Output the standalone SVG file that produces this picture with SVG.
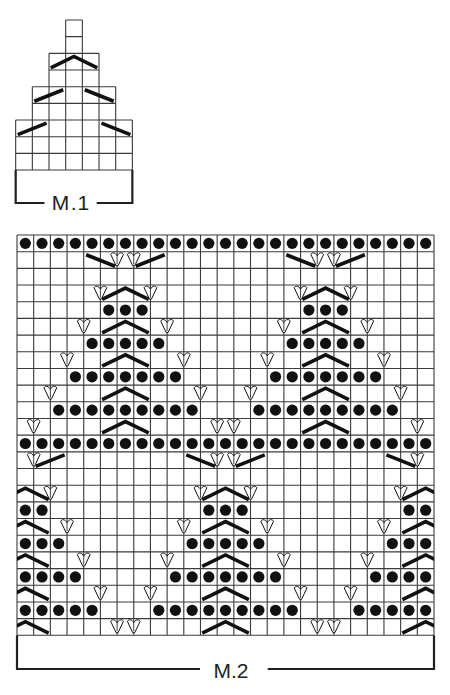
<svg xmlns="http://www.w3.org/2000/svg" xmlns:xlink="http://www.w3.org/1999/xlink" width="450" height="695" viewBox="0 0 450 695">
<style>
.g{fill:none;stroke:#3a3a3a;stroke-width:1.1}
.k{fill:none;stroke:#111;stroke-width:3.6;stroke-linejoin:miter}
.br{fill:none;stroke:#231f20;stroke-width:2.2}
.dt{fill:#111}
.vo{fill:#fff;stroke:#111;stroke-width:1;stroke-linejoin:round}
.vi{fill:none;stroke:#111;stroke-width:0.8}
.t{font-family:"Liberation Sans",Arial,sans-serif;font-size:21px;fill:#231f20}
</style>
<defs>
<clipPath id="gridclip"><rect x="17" y="235" width="417" height="400.32"/></clipPath>
<circle id="d" class="dt" r="5.6"/>
<g id="v"><path class="vo" d="M-6.4,-5.2 C-4.8,-7.6 -1.8,-7.2 0,-3.6 C1.8,-7.2 4.8,-7.6 6.4,-5.2 L1,6.2 L-1,6.2 Z"/><path class="vi" d="M0,-3.6 V4.8"/></g>
<path id="ch" class="k" d="M-23.3,6.1 L0,-5.3 L23.3,6.1"/>
<path id="fs" class="k" d="M2,6.2 L30.9,-5.3"/>
<path id="bs" class="k" d="M-30.9,-5.3 L-2,6.2"/>
<g id="fullrow">
<use href="#d" x="25.34"/><use href="#d" x="42.02"/><use href="#d" x="58.70"/><use href="#d" x="75.38"/><use href="#d" x="92.06"/><use href="#d" x="108.74"/><use href="#d" x="125.42"/><use href="#d" x="142.10"/><use href="#d" x="158.78"/><use href="#d" x="175.46"/><use href="#d" x="192.14"/><use href="#d" x="208.82"/><use href="#d" x="225.50"/><use href="#d" x="242.18"/><use href="#d" x="258.86"/><use href="#d" x="275.54"/><use href="#d" x="292.22"/><use href="#d" x="308.90"/><use href="#d" x="325.58"/><use href="#d" x="342.26"/><use href="#d" x="358.94"/><use href="#d" x="375.62"/><use href="#d" x="392.30"/><use href="#d" x="408.98"/><use href="#d" x="425.66"/>
</g>
<g id="top2L"><use href="#bs" x="-8.34" y="25.02"/><use href="#v" x="-8.34" y="24.52"/></g>
<g id="top2R"><use href="#fs" x="8.34" y="25.02"/><use href="#v" x="8.34" y="24.52"/></g>
<g id="body">
<use href="#ch" y="58.38"/><use href="#ch" y="91.74"/><use href="#ch" y="125.10"/><use href="#ch" y="158.46"/><use href="#ch" y="191.82"/>
<use href="#d" x="-16.68" y="75.06"/><use href="#d" x="0" y="75.06"/><use href="#d" x="16.68" y="75.06"/>
<use href="#d" x="-33.36" y="108.42"/><use href="#d" x="-16.68" y="108.42"/><use href="#d" x="0" y="108.42"/><use href="#d" x="16.68" y="108.42"/><use href="#d" x="33.36" y="108.42"/>
<use href="#d" x="-50.04" y="141.78"/><use href="#d" x="-33.36" y="141.78"/><use href="#d" x="-16.68" y="141.78"/><use href="#d" x="0" y="141.78"/><use href="#d" x="16.68" y="141.78"/><use href="#d" x="33.36" y="141.78"/><use href="#d" x="50.04" y="141.78"/>
<use href="#d" x="-66.72" y="175.14"/><use href="#d" x="-50.04" y="175.14"/><use href="#d" x="-33.36" y="175.14"/><use href="#d" x="-16.68" y="175.14"/><use href="#d" x="0" y="175.14"/><use href="#d" x="16.68" y="175.14"/><use href="#d" x="33.36" y="175.14"/><use href="#d" x="50.04" y="175.14"/><use href="#d" x="66.72" y="175.14"/>
<use href="#v" x="-25.02" y="57.88"/><use href="#v" x="25.02" y="57.88"/>
<use href="#v" x="-41.70" y="91.24"/><use href="#v" x="41.70" y="91.24"/>
<use href="#v" x="-58.38" y="124.60"/><use href="#v" x="58.38" y="124.60"/>
<use href="#v" x="-75.06" y="157.96"/><use href="#v" x="75.06" y="157.96"/>
<use href="#v" x="-91.74" y="191.32"/><use href="#v" x="91.74" y="191.32"/>
</g>
</defs>
<rect width="450" height="695" fill="#fff"/>

<g id="m1">
<path id="m1-grid" class="g" d="M65.68 20H82.35M65.68 36.67H82.35M49.01 53.34H99.02M49.01 70.01H99.02M32.34 86.68H115.69M32.34 103.35H115.69M15.67 120.02H132.36M15.67 136.69H132.36M15.67 153.36H132.36M15.67 170.03H132.36M15.67 120.02V170.03M32.34 86.68V170.03M49.01 53.34V170.03M65.68 20V170.03M82.35 20V170.03M99.02 53.34V170.03M115.69 86.68V170.03M132.36 120.02V170.03"/>
<g id="m1-symbols">
<use href="#ch" x="74.02" y="61.68"/>
<use href="#fs" x="32.34" y="95.02"/><use href="#bs" x="115.69" y="95.02"/>
<use href="#fs" x="15.67" y="128.36"/><use href="#bs" x="132.36" y="128.36"/>
</g>
<path id="m1-bracket" class="br" d="M15.67 170V203H44.5M96.7 203H132.36V170"/>
<text id="m1-label" class="t" x="70.5" y="209.5" text-anchor="middle">M<tspan dx="1.5">.</tspan><tspan dx="1">1</tspan></text>
</g>

<g id="m2">
<path id="m2-grid" class="g" d="M17 235V635.32M33.68 235V635.32M50.36 235V635.32M67.04 235V635.32M83.72 235V635.32M100.40 235V635.32M117.08 235V635.32M133.76 235V635.32M150.44 235V635.32M167.12 235V635.32M183.80 235V635.32M200.48 235V635.32M217.16 235V635.32M233.84 235V635.32M250.52 235V635.32M267.20 235V635.32M283.88 235V635.32M300.56 235V635.32M317.24 235V635.32M333.92 235V635.32M350.60 235V635.32M367.28 235V635.32M383.96 235V635.32M400.64 235V635.32M417.32 235V635.32M434 235V635.32M17 235H434M17 251.68H434M17 268.36H434M17 285.04H434M17 301.72H434M17 318.40H434M17 335.08H434M17 351.76H434M17 368.44H434M17 385.12H434M17 401.80H434M17 418.48H434M17 435.16H434M17 451.84H434M17 468.52H434M17 485.20H434M17 501.88H434M17 518.56H434M17 535.24H434M17 551.92H434M17 568.60H434M17 585.28H434M17 601.96H434M17 618.64H434M17 635.32H434"/>
<g id="m2-purl-rows">
<use href="#fullrow" y="243.34"/>
<use href="#fullrow" y="443.50"/>
</g>
<g id="m2-motif-upper-a" transform="translate(125.42 235)"><use href="#top2L"/><use href="#top2R"/><use href="#body"/></g>
<g id="m2-motif-upper-b" transform="translate(325.58 235)"><use href="#top2L"/><use href="#top2R"/><use href="#body"/></g>
<g id="m2-motif-lower-mid" transform="translate(225.50 435.16)"><use href="#top2L"/><use href="#top2R"/><use href="#body"/></g>
<g id="m2-motif-lower-edges" clip-path="url(#gridclip)">
<g transform="translate(25.34 435.16)"><use href="#top2R"/><use href="#body"/></g>
<g transform="translate(425.66 435.16)"><use href="#top2L"/><use href="#body"/></g>
</g>
<path id="m2-bracket" class="br" d="M17 635.32V669H200M267.7 669H434V635.32"/>
<text id="m2-label" class="t" x="231" y="677.5" text-anchor="middle">M.2</text>
</g>
</svg>
